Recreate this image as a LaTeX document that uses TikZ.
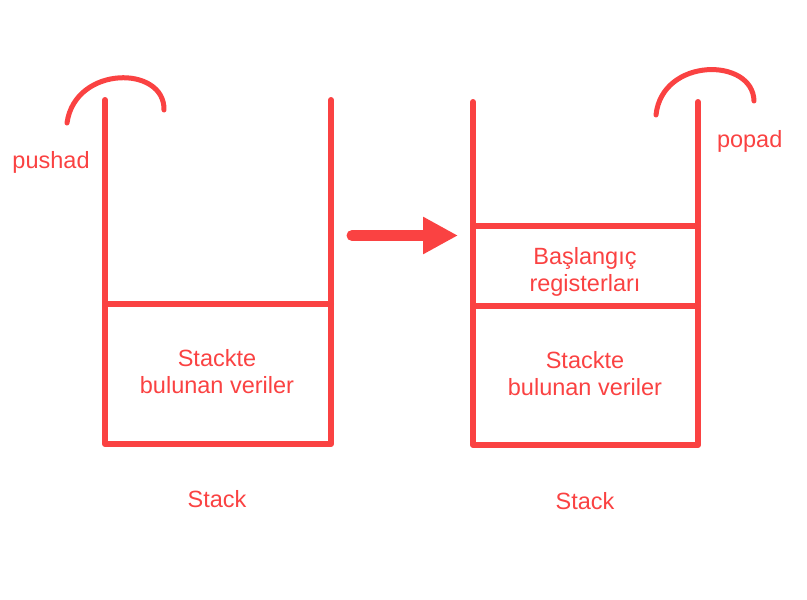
\documentclass[tikz,border=0pt]{standalone}
\usepackage{fontspec}
\setmainfont{Liberation Sans}
\usetikzlibrary{arrows.meta}
\definecolor{stackred}{RGB}{250,66,66}

\begin{document}
\begin{tikzpicture}[x=1pt, y=-1pt, line width=6pt, line cap=round, line join=round,
    draw=stackred, text=stackred,
    lbl/.style={inner sep=0pt, align=center, font=\fontsize{23.5}{26.5}\selectfont}]
  \useasboundingbox (0,0) rectangle (807,600);
  % left stack
  \coordinate (ltl) at (105,100);
  \coordinate (ltr) at (331,100);
  \coordinate (lbl) at (105,444);
  \coordinate (lbr) at (331,444);
  \draw (ltl) -- (lbl) -- (lbr) -- (ltr);
  \draw (105,304) -- (331,304);
  \node[lbl, anchor=base] (ldata) at (217,393) {Stackte\\bulunan veriler};
  \node[lbl, anchor=base] (lname) at (217,507) {Stack};
  % pushad hook
  \draw[line width=5pt] (67,123) .. controls (75,65) and (165,65) .. (164,110);
  \node[lbl, anchor=base west] (pushad) at (9.5,168) {pushad};
  % arrow between the two stacks
  \coordinate (arrfrom) at (352,235.5);
  \coordinate (arrto) at (458,235.5);
  \draw[line width=11pt, -{Triangle[length=35pt,width=35pt]}, fill=stackred] (arrfrom) -- (arrto);
  % right stack
  \coordinate (rtl) at (473,102);
  \coordinate (rtr) at (698,102);
  \coordinate (rbl) at (473,445);
  \coordinate (rbr) at (698,445);
  \draw (rtl) -- (rbl) -- (rbr) -- (rtr);
  \draw (473,226) -- (698,226);
  \draw (473,306) -- (698,306);
  \node[lbl, anchor=base] (regs) at (585,291) {Başlangıç\\registerları};
  \node[lbl, anchor=base] (rdata) at (585,395) {Stackte\\bulunan veriler};
  \node[lbl, anchor=base] (rname) at (585,509) {Stack};
  % popad hook
  \draw[line width=5pt] (656,115) .. controls (662,57) and (753,57) .. (754,101);
  \node[lbl, anchor=base west] (popad) at (714,147) {popad};
\end{tikzpicture}
\end{document}
